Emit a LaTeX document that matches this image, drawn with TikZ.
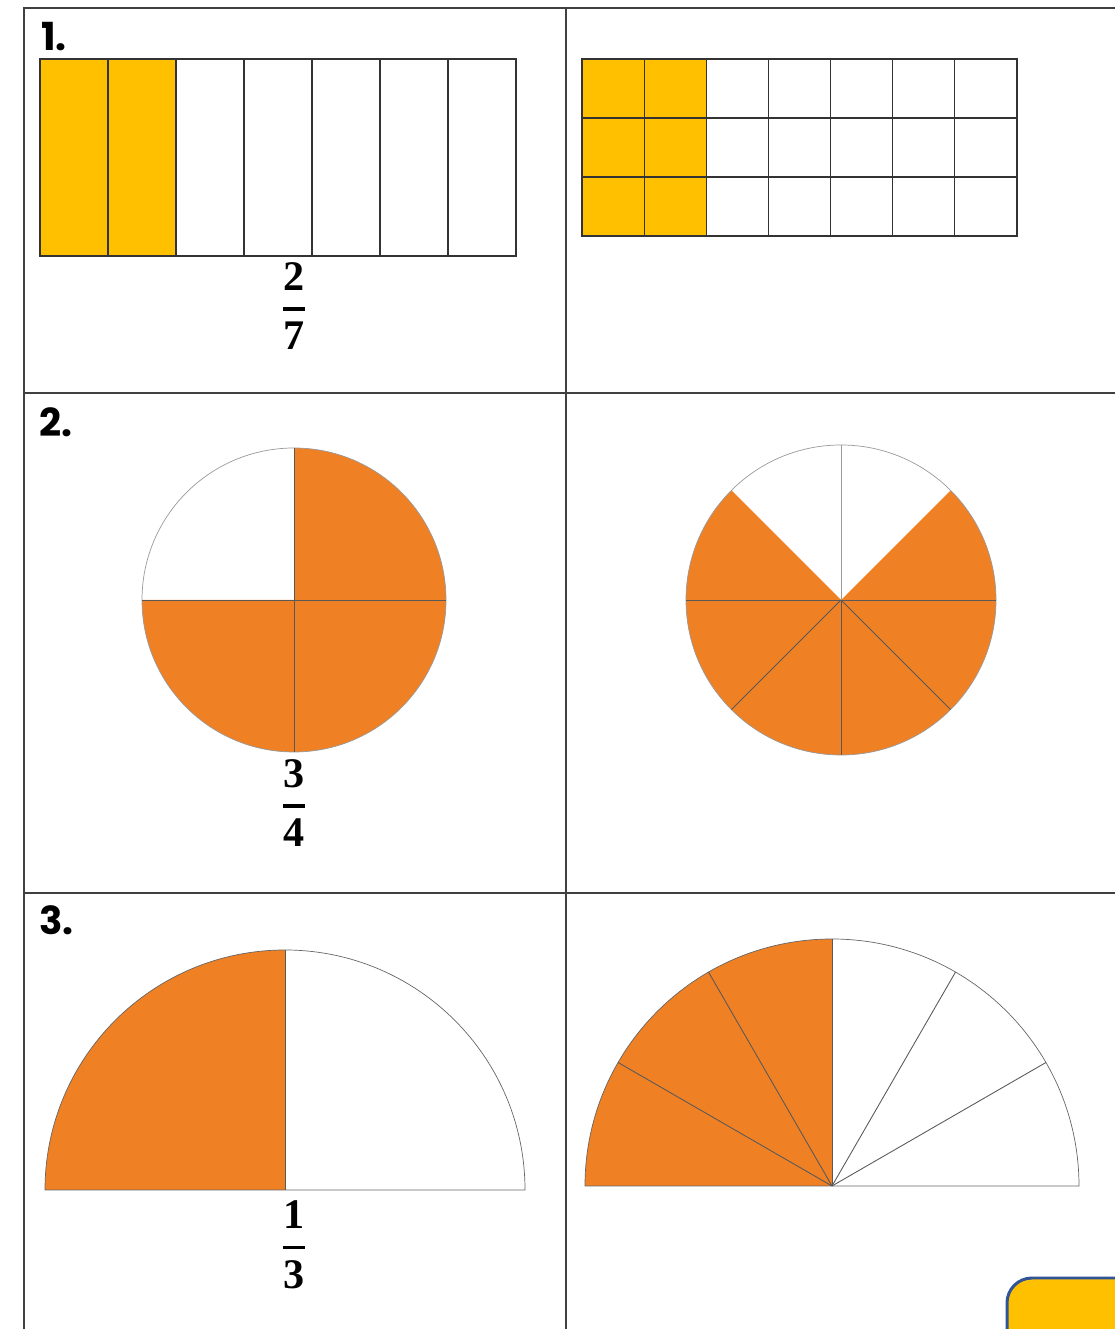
\documentclass[tikz,border=0pt]{standalone}
\usepackage{amsmath}
\usepackage{fontspec}
\newfontfamily\numfont{Poppins}
\newfontfamily\digfont{Liberation Serif}
\newcommand{\bdig}[1]{\mbox{\digfont\bfseries #1}}
\definecolor{fracyellow}{HTML}{FFC000}
\definecolor{fracorange}{HTML}{F08024}
\definecolor{boxblue}{HTML}{2F5597}

\begin{document}
\begin{tikzpicture}[x=0.02cm, y=0.02cm,
  grid/.style={line width=0.9pt, black!75},
  cell/.style={line width=0.7pt, black!80},
  divider/.style={line width=0.5pt, black!65},
  rim/.style={line width=0.4pt, black!40},
  qnum/.style={anchor=west, inner sep=0pt, font=\numfont\bfseries\fontsize{22}{26}\selectfont},
  frac/.style={inner sep=0pt, font=\fontsize{24}{28}\selectfont}]
\clip (0,0) rectangle (1115,1329);

% Table
\draw[grid] (24,-10) -- (24,1321) -- (1125,1321);
\draw[grid] (566,-10) -- (566,1321);
\draw[grid] (24,936) -- (1125,936);
\draw[grid] (24,436) -- (1125,436);

% 1. Bar in sevenths
\fill[fracyellow] (40,1073) rectangle (176,1270);
\foreach \i in {0,...,6} {
    \draw[cell] ({40+68*\i},1073) rectangle ++(68,197);
}
\node[qnum] (q1) at (41,1292) {1.};
\node[frac] (f27) at (294,1023) {$\genfrac{}{}{2pt}{0}{\bdig{2}}{\bdig{7}}$};

% 1. Grid 3 x 7
\fill[fracyellow] (582,1093) rectangle ({582+2*435/7},1270);
\foreach \i in {0,...,6} {
    \foreach \j in {0,1,2} {
        \draw[cell] ({582+435/7*\i},{1093+59*\j}) rectangle ++(435/7,59);
    }
}

% 2. Circle in quarters
\fill[fracorange] (294,729) -- (294,881) arc[start angle=90, end angle=-180, radius=152] -- cycle;
\draw[rim] (294,729) circle[radius=152];
\draw[divider] (142,729) -- (446,729);
\draw[divider] (294,577) -- (294,881);
\node[qnum] (q2) at (39,907) {2.};
\node[frac] (f34) at (294,526) {$\genfrac{}{}{2pt}{0}{\bdig{3}}{\bdig{4}}$};

% 2. Circle in eighths
\fill[fracorange] (841,729) -- ++(45:155) arc[start angle=45, end angle=-225, radius=155] -- cycle;
\draw[rim] (841,729) circle[radius=155];
\foreach \a in {0,180,225,270,315} {
    \draw[divider] (841,729) -- ++(\a:155);
}
\draw[rim] (841,729) -- ++(90:155);

% 3. Half circle in halves
\fill[fracorange] (285,139) -- (285,379) arc[start angle=90, end angle=180, radius=240] -- cycle;
\draw[rim, black!60] (45,139) arc[start angle=180, end angle=0, radius=240] -- cycle;
\draw[divider] (285,139) -- (285,379);
\node[qnum] (q3) at (39,409) {3.};
\node[frac] (f13) at (294,84) {$\genfrac{}{}{2pt}{0}{\bdig{1}}{\bdig{3}}$};

% 3. Half circle in sixths
\fill[fracorange] (832,143) -- (832,390) arc[start angle=90, end angle=180, radius=247] -- cycle;
\draw[rim, black!60] (585,143) arc[start angle=180, end angle=0, radius=247] -- cycle;
\foreach \a in {30,60,90,120,150} {
    \draw[divider] (832,143) -- ++(\a:247);
}

% Corner box
\draw[boxblue, line width=1.7pt, fill=fracyellow, rounded corners=0.5cm] (1007,-30) rectangle (1160,51);
\end{tikzpicture}
\end{document}
